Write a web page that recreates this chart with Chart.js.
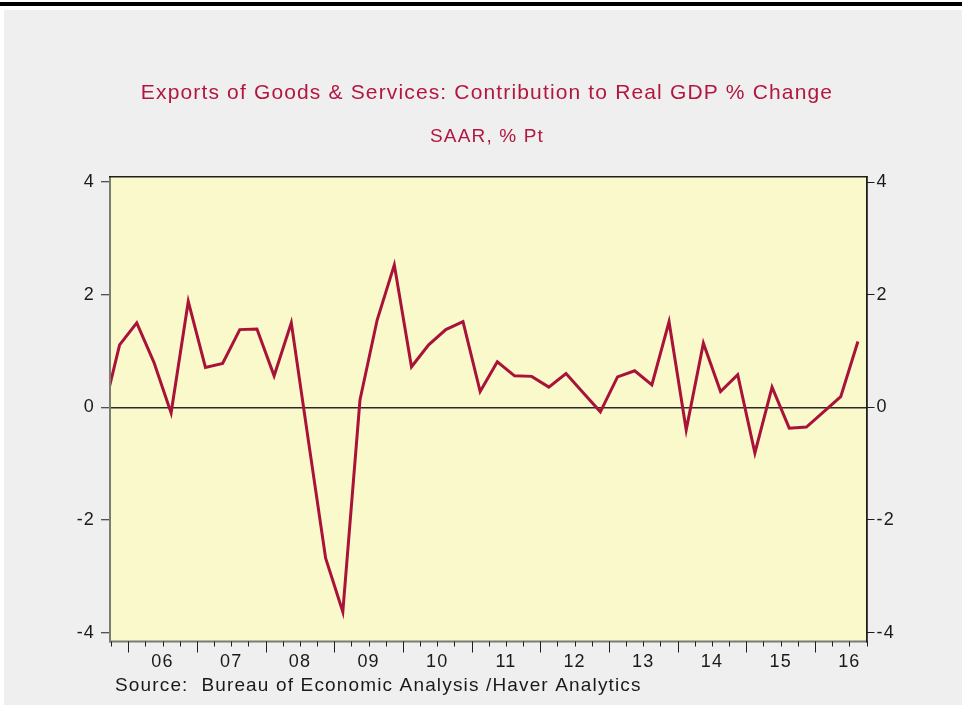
<!DOCTYPE html>
<html><head><meta charset="utf-8">
<script src="https://cdn.jsdelivr.net/npm/chart.js@4/dist/chart.umd.min.js"></script>
<style>html,body{margin:0;padding:0;background:#fff;}canvas{display:block;}</style>
</head><body>
<canvas id="c" width="962" height="707"></canvas>
<script>
const titleText = 'Exports of Goods & Services: Contribution to Real GDP % Change';
const subtitleText = 'SAAR, % Pt';
const sourceText = 'Source:  Bureau of Economic Analysis /Haver Analytics';

const quarters = [
  '2005Q3','2005Q4',
  '2006Q1','2006Q2','2006Q3','2006Q4',
  '2007Q1','2007Q2','2007Q3','2007Q4',
  '2008Q1','2008Q2','2008Q3','2008Q4',
  '2009Q1','2009Q2','2009Q3','2009Q4',
  '2010Q1','2010Q2','2010Q3','2010Q4',
  '2011Q1','2011Q2','2011Q3','2011Q4',
  '2012Q1','2012Q2','2012Q3','2012Q4',
  '2013Q1','2013Q2','2013Q3','2013Q4',
  '2014Q1','2014Q2','2014Q3','2014Q4',
  '2015Q1','2015Q2','2015Q3','2015Q4',
  '2016Q1','2016Q2','2016Q3'
];
const exportsContribution = [
  -0.15, 1.11,
  1.50, 0.80, -0.10, 1.88,
  0.71, 0.78, 1.38, 1.39,
  0.56, 1.50, -0.60, -2.68,
  -3.63, 0.13, 1.55, 2.53,
  0.72, 1.11, 1.38, 1.52,
  0.28, 0.81, 0.56, 0.55,
  0.36, 0.60, 0.26, -0.08,
  0.54, 0.65, 0.40, 1.52,
  -0.40, 1.14, 0.28, 0.58,
  -0.81, 0.36, -0.37, -0.35,
  -0.08, 0.19, 1.17
];
const yearLabels = ['06','07','08','09','10','11','12','13','14','15','16'];
const yTicks = [-4, -2, 0, 2, 4];

const FONT = "'Liberation Sans', Arial, sans-serif";
const RED = '#a91239';
const TITLE_RED = '#b3163f';
const TXT = '#1a1a1a';

function qToX(q) {
  const y = parseInt(q.slice(0, 4), 10);
  const n = parseInt(q.slice(5), 10);
  return y + (n - 0.5) / 4;
}
const points = quarters.map((q, i) => ({ x: qToX(q), y: exportsContribution[i] }));
const yearCenter = l => 2000 + parseInt(l, 10) + 0.5;

const decor = {
  id: 'decor',
  beforeDraw(chart) {
    const { ctx, chartArea: a } = chart;
    ctx.letterSpacing = '1.15px';
    ctx.save();
    ctx.fillStyle = '#ffffff'; ctx.fillRect(0, 0, 962, 707);
    ctx.fillStyle = '#000000'; ctx.fillRect(0, 2, 962, 4);
    ctx.fillStyle = '#efefef'; ctx.fillRect(4, 10, 958, 695);
    ctx.fillStyle = '#faf9cb'; ctx.fillRect(a.left, a.top, a.right - a.left, a.bottom - a.top);
    ctx.restore();
  },
  afterDatasetsDraw(chart) {
    const { ctx, chartArea: a } = chart;
    ctx.save();
    ctx.fillStyle = '#7c7c70';
    ctx.fillRect(a.left - 2, a.top, 2, a.bottom - a.top + 2);
    ctx.fillRect(a.left - 2, a.bottom, a.right - a.left + 3, 2);
    ctx.fillStyle = '#1e1e1e';
    ctx.fillRect(a.left - 2, a.top - 1, a.right - a.left + 3, 1.5);
    ctx.fillRect(a.right - 0.5, a.top - 1, 1.8, a.bottom - a.top + 3);
    ctx.restore();
  },
  afterDraw(chart) {
    const { ctx, chartArea: a } = chart;
    const xs = chart.scales.x;
    ctx.save();
    ctx.strokeStyle = '#1e1e1e';
    ctx.lineWidth = 1;
    for (let k = 0; k <= 44; k++) {
      const t = xs.min + k * 0.25;
      const px = Math.round(xs.getPixelForValue(t)) + 0.5;
      const isYear = Math.abs(t - Math.round(t)) < 1e-6;
      ctx.beginPath();
      ctx.moveTo(px, a.bottom + 1);
      ctx.lineTo(px, a.bottom + (isYear ? 12 : 6));
      ctx.stroke();
    }
    ctx.fillStyle = TXT;
    ctx.font = '19px ' + FONT;
    ctx.textAlign = 'left';
    ctx.textBaseline = 'middle';
    ctx.fillText(sourceText, 115, 686);
    ctx.restore();
  }
};

new Chart(document.getElementById('c'), {
  type: 'line',
  data: {
    datasets: [{
      data: points,
      borderColor: RED,
      borderWidth: 3,
      pointRadius: 0,
      tension: 0,
      clip: 0,
      yAxisID: 'y'
    }]
  },
  options: {
    responsive: false,
    devicePixelRatio: 1,
    animation: false,
    layout: { padding: { left: 12, right: 0, top: 0, bottom: 0 } },
    plugins: {
      legend: { display: false },
      tooltip: { enabled: false },
      title: {
        display: true, text: titleText, color: TITLE_RED,
        font: { family: FONT, size: 21, weight: 'normal' },
        padding: { top: 80.4, bottom: 20 }
      },
      subtitle: {
        display: true, text: subtitleText, color: TITLE_RED,
        font: { family: FONT, size: 19, weight: 'normal' },
        padding: { top: 0, bottom: 28.6 }
      }
    },
    scales: {
      x: {
        type: 'linear', min: 2005.75, max: 2016.75,
        afterBuildTicks: s => { s.ticks = yearLabels.map(l => ({ value: yearCenter(l) })); },
        afterFit: s => { s.height = 66.5; },
        grid: { display: false, drawTicks: false },
        border: { display: false },
        ticks: {
          autoSkip: false, maxRotation: 0, padding: 10.5, color: TXT,
          font: { family: FONT, size: 18 },
          callback: v => yearLabels[Math.floor(v) - 2006]
        }
      },
      y: {
        position: 'left', min: -4.14, max: 4.09,
        afterBuildTicks: s => { s.ticks = yTicks.map(v => ({ value: v })); },
        afterFit: s => { s.width = 99; },
        border: { display: false },
        grid: {
          drawOnChartArea: true,
          color: c => (c.tick && c.tick.value === 0) ? '#2a2a2a' : 'rgba(0,0,0,0)',
          lineWidth: 1.5, tickLength: 10, tickColor: '#1e1e1e', tickWidth: 1
        },
        ticks: { padding: 6, color: TXT, font: { family: FONT, size: 18 }, callback: v => String(v) }
      },
      y2: {
        position: 'right', min: -4.14, max: 4.09,
        afterBuildTicks: s => { s.ticks = yTicks.map(v => ({ value: v })); },
        afterFit: s => { s.width = 95.5; },
        border: { display: false },
        grid: { drawOnChartArea: false, tickLength: 8, tickColor: '#1e1e1e', tickWidth: 1 },
        ticks: { padding: 2, color: TXT, font: { family: FONT, size: 18 }, callback: v => String(v) }
      }
    }
  },
  plugins: [decor]
});
</script>
</body></html>
